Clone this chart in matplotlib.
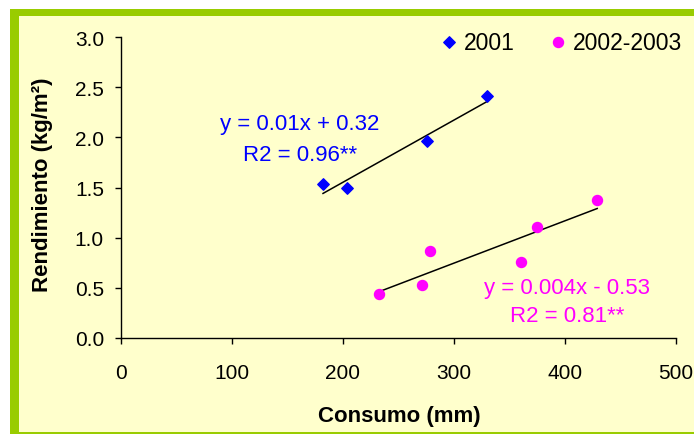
"""
Rendimiento vs consumo
"""

import matplotlib
matplotlib.use("Agg")
import matplotlib.pyplot as plt
import numpy as np
from matplotlib.patches import Rectangle

plt.rcParams['font.family'] = ['Liberation Sans', 'DejaVu Sans']

# datos
x_2001 = [182, 204, 276, 330]
y_2001 = [1.53, 1.50, 1.96, 2.41]
x_0203 = [232, 271, 278, 360, 375, 429]
y_0203 = [0.44, 0.53, 0.87, 0.76, 1.11, 1.38]
labels = ["2001", "2002-2003"]
eq_2001 = ["y = 0.01x + 0.32", "R2 = 0.96**"]
eq_0203 = ["y = 0.004x - 0.53", "R2 = 0.81**"]
x_ticks = [0, 100, 200, 300, 400, 500]
y_ticks = [0.0, 0.5, 1.0, 1.5, 2.0, 2.5, 3.0]

BLUE = "#0000FF"
MAGENTA = "#FF00FF"
W, H = 694, 435

fig = plt.figure(figsize=(W / 100, H / 100), dpi=100)
fig.patch.set_facecolor("white")
# marco verde + fondo amarillo
fig.add_artist(Rectangle((10 / W, 0), 1, (H - 10) / H, transform=fig.transFigure,
                         facecolor="#99CC00", edgecolor="none", zorder=0))
fig.add_artist(Rectangle((19 / W, 2 / H), 1, (H - 17 - 2) / H, transform=fig.transFigure,
                         facecolor="#FFFFCC", edgecolor="none", zorder=0))

ax = fig.add_axes([121 / W, (H - 339) / H, 555 / W, 301 / H])
ax.set_facecolor("none")

s1 = ax.scatter(x_2001, y_2001, marker="D", s=34, color=BLUE, zorder=3, label=labels[0])
s2 = ax.scatter(x_0203, y_0203, marker="o", s=52, color=MAGENTA, zorder=3, label=labels[1])

# lineas de tendencia
for xs, ys in [(x_2001, y_2001), (x_0203, y_0203)]:
    p = np.polyfit(xs, ys, 1)
    xx = np.array([min(xs), max(xs)])
    ax.plot(xx, np.polyval(p, xx), color="black", lw=1.1, zorder=2)

ax.text(0.3225, 0.711, eq_2001[0], transform=ax.transAxes, color=BLUE,
        fontsize=16, ha="center", va="center")
ax.text(0.3225, 0.611, eq_2001[1], transform=ax.transAxes, color=BLUE,
        fontsize=16, ha="center", va="center")
ax.text(0.8045, 0.169, eq_0203[0], transform=ax.transAxes, color=MAGENTA,
        fontsize=16, ha="center", va="center")
ax.text(0.8045, 0.074, eq_0203[1], transform=ax.transAxes, color=MAGENTA,
        fontsize=16, ha="center", va="center")

ax.set_xlim(0, 500)
ax.set_ylim(0, 3)
ax.set_xticks(x_ticks)
ax.set_yticks(y_ticks)
ax.set_yticklabels([f"{v:.1f}" for v in y_ticks])
ax.tick_params(axis="both", direction="out", length=4.3, width=1, labelsize=15)
ax.tick_params(axis="y", pad=8)
ax.tick_params(axis="x", pad=14)
for side in ["top", "right"]:
    ax.spines[side].set_visible(False)
for side in ["left", "bottom"]:
    ax.spines[side].set_linewidth(1)

ax.set_xlabel("Consumo (mm)", fontsize=16, fontweight="bold", va="center")
ax.xaxis.set_label_coords(0.501, -0.259)
ax.set_ylabel("Rendimiento (kg/m²)", fontsize=16, fontweight="bold", va="center")
ax.yaxis.set_label_coords(-0.142, 0.512)

fig.legend(handles=[s1, s2], loc="center right", bbox_to_anchor=(682 / W, 1 - 43 / H),
           ncol=2, frameon=False, fontsize=16.5, borderpad=0, borderaxespad=0,
           handlelength=0.8, handletextpad=0.25, columnspacing=1.5, scatterpoints=1)

fig.savefig("out.png", dpi=100)
